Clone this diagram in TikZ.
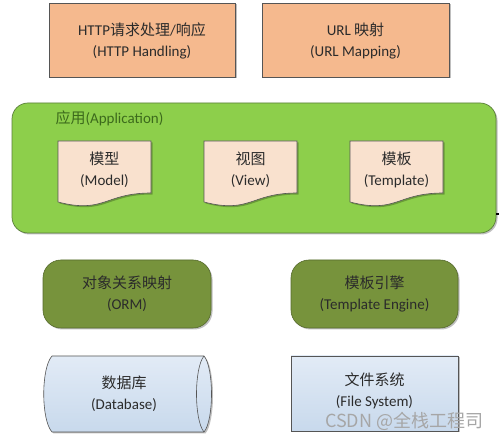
\documentclass[tikz,border=0pt]{standalone}
\usepackage{fontspec}
\setmainfont{Carlito}
\newfontfamily\cjk{Noto Sans CJK SC}
\usetikzlibrary{shadows}
\definecolor{orangefill}{HTML}{F5B98E}
\definecolor{appgreen}{HTML}{8DCF4B}
\definecolor{appborder}{HTML}{5A7F3A}
\definecolor{docfill}{HTML}{F9E1CE}
\definecolor{olive}{HTML}{77933C}
\definecolor{oliveborder}{HTML}{55692C}
\definecolor{bluetop}{HTML}{E2EBF6}
\definecolor{bluebot}{HTML}{C8D9EC}
\definecolor{txt}{HTML}{2B2B2B}
\definecolor{labgreen}{HTML}{3C6A1C}
\definecolor{edge}{HTML}{555555}
\tikzset{
  x=1pt, y=-1pt,
  shad/.style={drop shadow={shadow xshift=1.5pt, shadow yshift=-1.5pt, opacity=0.25, fill=black}},
  lbl/.style={text=txt, font=\fontsize{15}{21}\selectfont, align=center},
  topbox/.style={draw=edge, fill=orangefill, line width=0.6pt, shad},
  doc/.style={draw=edge, fill=docfill, line width=0.6pt, shad},
  olivebox/.style={draw=oliveborder, fill=olive, line width=0.6pt, rounded corners=18pt, shad},
  bluebox/.style={draw=edge, line width=0.6pt, top color=bluetop, bottom color=bluebot, shad},
}
\begin{document}
\begin{tikzpicture}
\useasboundingbox (0,0) rectangle (499,438);
\fill[white] (0,0) rectangle (499,438);
% top boxes
\draw[topbox] (49,3) rectangle (235,77);
\node[lbl] (http) at (142,41) {HTTP{\cjk 请求处理}/{\cjk 响应}\\(HTTP Handling)};
\draw[topbox] (262,3) rectangle (449,77);
\node[lbl] (url) at (355.5,41) {URL {\cjk 映射}\\(URL Mapping)};
% application
\draw[draw=appborder, fill=appgreen, line width=0.7pt, rounded corners=16pt, shad] (12,103) rectangle (496,233);
\node[text=labgreen, font=\fontsize{15}{18}\selectfont, anchor=west] (app) at (52,118) {{\cjk 应用}(Application)};
\draw[line width=1.2pt] (496,214) -- (499,214);
% documents
\foreach \x in {58,204,350}{
  \draw[doc] (\x,141) -- (\x+93,141) -- (\x+93,193)
    .. controls (\x+46.5,193) and (\x+46.5,214) .. (\x,202) -- cycle;
}
\node[lbl] (model) at (104.5,170) {{\cjk 模型}\\(Model)};
\node[lbl] (view) at (250.5,170) {{\cjk 视图}\\(View)};
\node[lbl] (tmpl) at (396.5,170) {{\cjk 模板}\\(Template)};
% olive
\draw[olivebox] (43,260) rectangle (211,328);
\node[lbl] (orm) at (127,294) {{\cjk 对象关系映射}\\(ORM)};
\draw[olivebox] (291,260) rectangle (458,328);
\node[lbl] (engine) at (374.5,294) {{\cjk 模板引擎}\\(Template Engine)};
% database
\draw[bluebox] (52,356) -- (204,356) .. controls (214,368) and (214,420) .. (204,432)
  -- (52,432) .. controls (41,420) and (41,368) .. (52,356) -- cycle;
\draw[draw=edge, line width=0.6pt] (204,356) .. controls (194,368) and (194,420) .. (204,432);
\node[lbl] (db) at (124,394) {{\cjk 数据库}\\(Database)};
% file system
\draw[bluebox] (291,356) rectangle (458,431);
\node[lbl] (fs) at (374.5,391) {{\cjk 文件系统}\\(File System)};
% watermark
\node[text=gray!70, font=\fontsize{18}{20}\selectfont, anchor=west, inner sep=0pt] (wm) at (325,421) {{\cjk CSDN @全栈工程司}};
\end{tikzpicture}
\end{document}
